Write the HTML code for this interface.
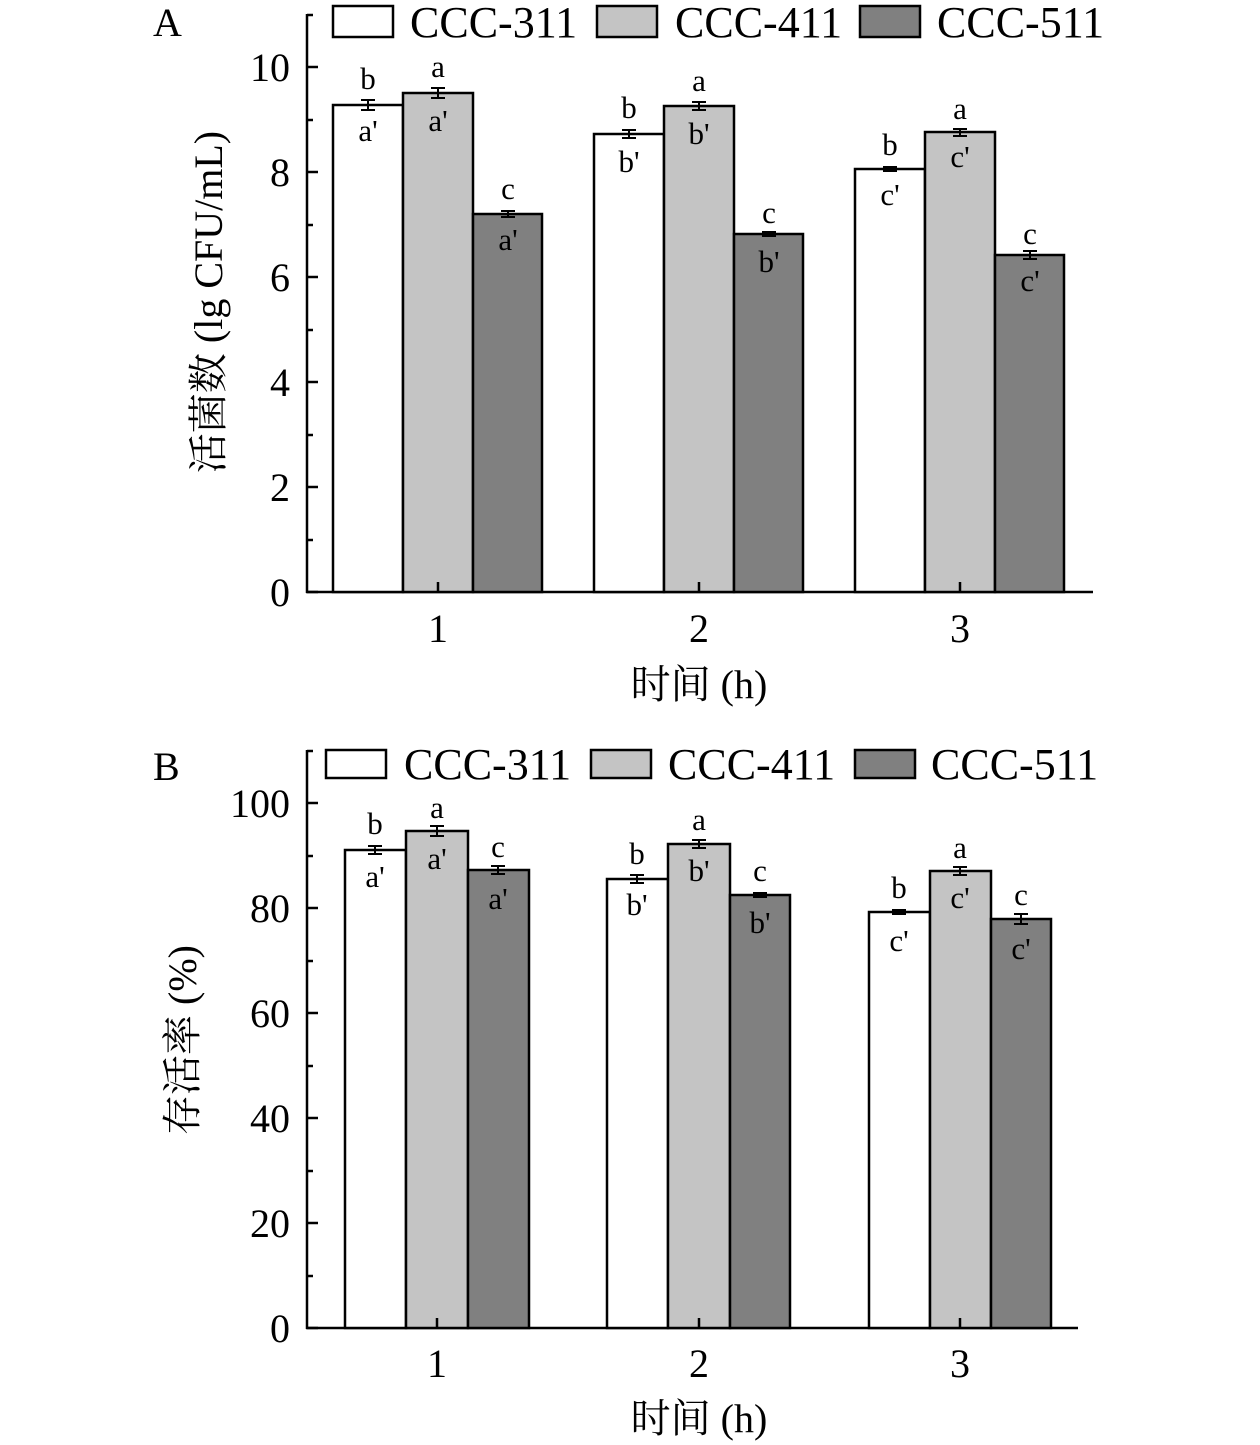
<!DOCTYPE html>
<html><head><meta charset="utf-8"><style>
html,body{margin:0;padding:0;background:#fff}
svg{display:block}
text{font-family:"Liberation Serif","Noto Serif CJK SC","Noto Sans CJK SC",serif;fill:#000}
.t{font-size:40px}
.l{font-size:31px;text-anchor:middle}
.lg{font-size:44px}
</style></head><body>
<svg width="1260" height="1445" viewBox="0 0 1260 1445" xmlns="http://www.w3.org/2000/svg">
<g stroke="#000" stroke-width="2.5">
<line x1="307" y1="14" x2="307" y2="593"/>
<line x1="306" y1="592" x2="1093" y2="592"/>
<line x1="307" y1="592" x2="318" y2="592"/><line x1="307" y1="487" x2="318" y2="487"/><line x1="307" y1="382" x2="318" y2="382"/><line x1="307" y1="277" x2="318" y2="277"/><line x1="307" y1="172" x2="318" y2="172"/><line x1="307" y1="67" x2="318" y2="67"/>
<line x1="307" y1="540" x2="313" y2="540"/><line x1="307" y1="435" x2="313" y2="435"/><line x1="307" y1="330" x2="313" y2="330"/><line x1="307" y1="225" x2="313" y2="225"/><line x1="307" y1="120" x2="313" y2="120"/><line x1="307" y1="15" x2="313" y2="15"/>
<rect x="333" y="105" width="70" height="487" fill="#fff"/>
<rect x="403" y="93" width="70" height="499" fill="#c4c4c4"/>
<rect x="473" y="214" width="69" height="378" fill="#808080"/>
<rect x="594" y="134" width="70" height="458" fill="#fff"/>
<rect x="664" y="106" width="70" height="486" fill="#c4c4c4"/>
<rect x="734" y="234" width="69" height="358" fill="#808080"/>
<rect x="855" y="169" width="70" height="423" fill="#fff"/>
<rect x="925" y="132" width="70" height="460" fill="#c4c4c4"/>
<rect x="995" y="255" width="69" height="337" fill="#808080"/>
<line x1="438" y1="592" x2="438" y2="582"/><line x1="699" y1="592" x2="699" y2="582"/><line x1="960" y1="592" x2="960" y2="582"/>
<path d="M368 100V110M361 100H375M361 110H375 M438 88V98M431 88H445M431 98H445 M508 211V217M501 211H515M501 217H515 M629 130V138M622 130H636M622 138H636 M699 102V110M692 102H706M692 110H706 M769 232V236M762 232H776M762 236H776 M890 167V171M883 167H897M883 171H897 M960 129V136M953 129H967M953 136H967 M1030 251V259M1023 251H1037M1023 259H1037" fill="none" stroke-width="2"/>
<rect x="333" y="6" width="60" height="31" fill="#fff"/>
<rect x="597" y="6" width="60" height="31" fill="#c4c4c4"/>
<rect x="860" y="6" width="60" height="31" fill="#808080"/>

<line x1="307" y1="750" x2="307" y2="1329"/>
<line x1="306" y1="1328" x2="1078" y2="1328"/>
<line x1="307" y1="1328" x2="318" y2="1328"/><line x1="307" y1="1223" x2="318" y2="1223"/><line x1="307" y1="1118" x2="318" y2="1118"/><line x1="307" y1="1013" x2="318" y2="1013"/><line x1="307" y1="908" x2="318" y2="908"/><line x1="307" y1="803" x2="318" y2="803"/>
<line x1="307" y1="1276" x2="313" y2="1276"/><line x1="307" y1="1171" x2="313" y2="1171"/><line x1="307" y1="1066" x2="313" y2="1066"/><line x1="307" y1="961" x2="313" y2="961"/><line x1="307" y1="856" x2="313" y2="856"/><line x1="307" y1="751" x2="313" y2="751"/>
<rect x="345" y="850" width="61" height="478" fill="#fff"/>
<rect x="406" y="831" width="62" height="497" fill="#c4c4c4"/>
<rect x="468" y="870" width="61" height="458" fill="#808080"/>
<rect x="607" y="879" width="61" height="449" fill="#fff"/>
<rect x="668" y="844" width="62" height="484" fill="#c4c4c4"/>
<rect x="730" y="895" width="60" height="433" fill="#808080"/>
<rect x="869" y="912" width="61" height="416" fill="#fff"/>
<rect x="930" y="871" width="61" height="457" fill="#c4c4c4"/>
<rect x="991" y="919" width="60" height="409" fill="#808080"/>
<line x1="437" y1="1328" x2="437" y2="1318"/><line x1="699" y1="1328" x2="699" y2="1318"/><line x1="960" y1="1328" x2="960" y2="1318"/>
<path d="M375 846V854M368 846H382M368 854H382 M437 826V836M430 826H444M430 836H444 M498 866V874M491 866H505M491 874H505 M637 875V883M630 875H644M630 883H644 M699 840V848M692 840H706M692 848H706 M760 893V897M753 893H767M753 897H767 M899 910V914M892 910H906M892 914H906 M960 867V875M953 867H967M953 875H967 M1021 914V924M1014 914H1028M1014 924H1028" fill="none" stroke-width="2"/>
<rect x="326" y="750" width="60" height="28" fill="#fff"/>
<rect x="591" y="750" width="60" height="28" fill="#c4c4c4"/>
<rect x="855" y="750" width="60" height="28" fill="#808080"/>
</g>

<text x="153" y="36" class="t">A</text>
<text x="410" y="37" class="lg">CCC-311</text>
<text x="675" y="37" class="lg">CCC-411</text>
<text x="937" y="37" class="lg">CCC-511</text>
<g class="t" text-anchor="end">
<text x="290" y="606">0</text><text x="290" y="501">2</text><text x="290" y="396">4</text><text x="290" y="291">6</text><text x="290" y="186">8</text><text x="290" y="81">10</text>
</g>
<g class="t" text-anchor="middle">
<text x="438" y="642">1</text><text x="699" y="642">2</text><text x="960" y="642">3</text>
<text x="699" y="698">时间 (h)</text>
<text transform="translate(222,302) rotate(-90)">活菌数 (lg CFU/mL)</text>
</g>
<g class="l">
<text x="368" y="89">b</text><text x="438" y="77">a</text><text x="508" y="199">c</text>
<text x="629" y="118">b</text><text x="699" y="91">a</text><text x="769" y="223">c</text>
<text x="890" y="155">b</text><text x="960" y="119">a</text><text x="1030" y="244">c</text>
<text x="368" y="141">a'</text><text x="438" y="131">a'</text><text x="508" y="250">a'</text>
<text x="629" y="172">b'</text><text x="699" y="144">b'</text><text x="769" y="272">b'</text>
<text x="890" y="205">c'</text><text x="960" y="167">c'</text><text x="1030" y="291">c'</text>
</g>

<text x="153" y="780" class="t">B</text>
<text x="404" y="779" class="lg">CCC-311</text>
<text x="668" y="779" class="lg">CCC-411</text>
<text x="931" y="779" class="lg">CCC-511</text>
<g class="t" text-anchor="end">
<text x="290" y="1342">0</text><text x="290" y="1237">20</text><text x="290" y="1132">40</text><text x="290" y="1027">60</text><text x="290" y="922">80</text><text x="290" y="817">100</text>
</g>
<g class="t" text-anchor="middle">
<text x="437" y="1377">1</text><text x="699" y="1377">2</text><text x="960" y="1377">3</text>
<text x="699" y="1432">时间 (h)</text>
<text transform="translate(196,1040) rotate(-90)">存活率 (%)</text>
</g>
<g class="l">
<text x="375" y="834">b</text><text x="437" y="818">a</text><text x="498" y="857">c</text>
<text x="637" y="864">b</text><text x="699" y="830">a</text><text x="760" y="881">c</text>
<text x="899" y="898">b</text><text x="960" y="858">a</text><text x="1021" y="905">c</text>
<text x="375" y="887">a'</text><text x="437" y="869">a'</text><text x="498" y="909">a'</text>
<text x="637" y="915">b'</text><text x="699" y="881">b'</text><text x="760" y="933">b'</text>
<text x="899" y="951">c'</text><text x="960" y="908">c'</text><text x="1021" y="959">c'</text>
</g>
</svg>
</body></html>
